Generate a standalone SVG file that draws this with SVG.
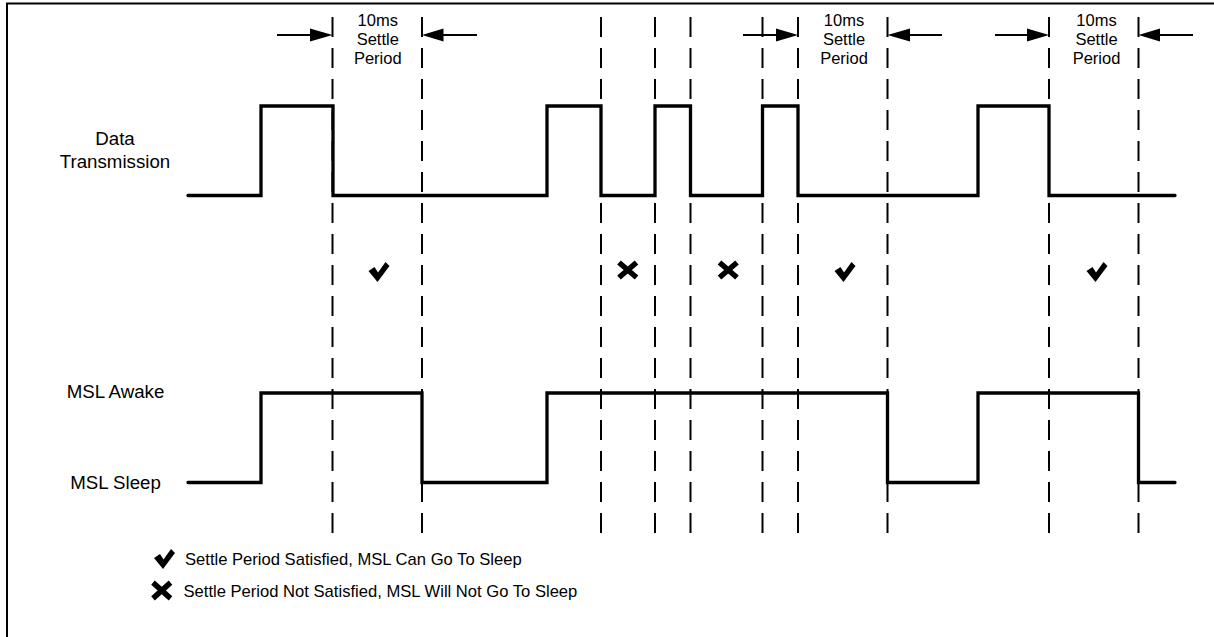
<svg xmlns="http://www.w3.org/2000/svg" width="1214" height="637" viewBox="0 0 1214 637">
<style>
.lbl{font-family:"Liberation Sans",Arial,sans-serif;font-size:18.7px;fill:#000;text-anchor:middle}
.st{font-family:"Liberation Sans",Arial,sans-serif;font-size:16.5px;fill:#000;text-anchor:middle}
.lg{font-family:"Liberation Sans",Arial,sans-serif;font-size:16.6px;fill:#000}
.sig{fill:none;stroke:#000;stroke-width:3.3;stroke-linejoin:miter;stroke-linecap:round}
.dash{stroke:#000;stroke-width:2;stroke-dasharray:20 11}
.arr{stroke:#000;stroke-width:2}
</style>
<defs>
<path id="chk" d="M0,9 L6,5 L9.5,10.5 L17,0 L21,4 L9,20 Z" fill="#000"/>
<path id="xx" d="M2,2 L19.5,17 M19.5,2 L2,17" stroke="#000" stroke-width="5.5" fill="none"/>
</defs>
<rect x="7" y="3.5" width="1220" height="645" fill="#fff" stroke="#000" stroke-width="2"/>

<g id="labels">
<text class="lbl" x="115" y="145">Data</text>
<text class="lbl" x="115" y="168">Transmission</text>
<text class="lbl" x="115.5" y="398">MSL Awake</text>
<text class="lbl" x="115.5" y="489">MSL Sleep</text>
</g>

<g id="gridlines">
<line class="dash" x1="332.5" y1="17" x2="332.5" y2="533"/>
<line class="dash" x1="422" y1="17" x2="422" y2="533"/>
<line class="dash" x1="601" y1="17" x2="601" y2="533"/>
<line class="dash" x1="655" y1="17" x2="655" y2="533"/>
<line class="dash" x1="690.5" y1="17" x2="690.5" y2="533"/>
<line class="dash" x1="762.5" y1="17" x2="762.5" y2="533"/>
<line class="dash" x1="798" y1="17" x2="798" y2="533"/>
<line class="dash" x1="887.5" y1="17" x2="887.5" y2="533"/>
<line class="dash" x1="1049" y1="17" x2="1049" y2="533"/>
<line class="dash" x1="1138.5" y1="17" x2="1138.5" y2="533"/>
</g>

<g id="data-signal">
<path class="sig" d="M188,195.5 H261 V106 H333 V195.5 H547 V106 H601 V195.5 H655 V106 H690.5 V195.5 H762.5 V106 H798 V195.5 H978 V106 H1049 V195.5 H1175"/>
</g>

<g id="msl-signal">
<path class="sig" d="M188,482.5 H261 V393 H422 V482.5 H547 V393 H887.5 V482.5 H978 V393 H1138.5 V482.5 H1175"/>
</g>

<g id="settle-1">
<text class="st" x="377.8" y="26">10ms</text>
<text class="st" x="377.8" y="45">Settle</text>
<text class="st" x="377.8" y="64">Period</text>
</g>
<g id="settle-2">
<text class="st" x="844" y="26">10ms</text>
<text class="st" x="844" y="45">Settle</text>
<text class="st" x="844" y="64">Period</text>
</g>
<g id="settle-3">
<text class="st" x="1096.5" y="26">10ms</text>
<text class="st" x="1096.5" y="45">Settle</text>
<text class="st" x="1096.5" y="64">Period</text>
</g>

<g id="connectors">
<line class="arr" x1="277" y1="35" x2="312" y2="35"/>
<polygon points="310,28.5 332.5,35 310,41.5"/>
<line class="arr" x1="441" y1="35" x2="477" y2="35"/>
<polygon points="422,35 443.5,28.5 443.5,41.5"/>
<line class="arr" x1="743" y1="35" x2="778" y2="35"/>
<polygon points="776,28.5 798,35 776,41.5"/>
<line class="arr" x1="908" y1="35" x2="942" y2="35"/>
<polygon points="887.5,35 910,28.5 910,41.5"/>
<line class="arr" x1="995" y1="35" x2="1029" y2="35"/>
<polygon points="1027,28.5 1049,35 1027,41.5"/>
<line class="arr" x1="1158" y1="35" x2="1193" y2="35"/>
<polygon points="1138.5,35 1160,28.5 1160,41.5"/>
</g>

<g id="marks">
<use href="#chk" transform="translate(368.5,262)"/>
<use href="#xx" transform="translate(617,260.5)"/>
<use href="#xx" transform="translate(717.5,260.5)"/>
<use href="#chk" transform="translate(834.5,262)"/>
<use href="#chk" transform="translate(1086.5,262)"/>
</g>

<g id="legend">
<use href="#chk" transform="translate(154,549)"/>
<text class="lg" x="185" y="565">Settle Period Satisfied, MSL Can Go To Sleep</text>
<use href="#xx" transform="translate(151,580.5) scale(1.0,1.05)"/>
<text class="lg" x="183.5" y="596.5">Settle Period Not Satisfied, MSL Will Not Go To Sleep</text>
</g>
</svg>
